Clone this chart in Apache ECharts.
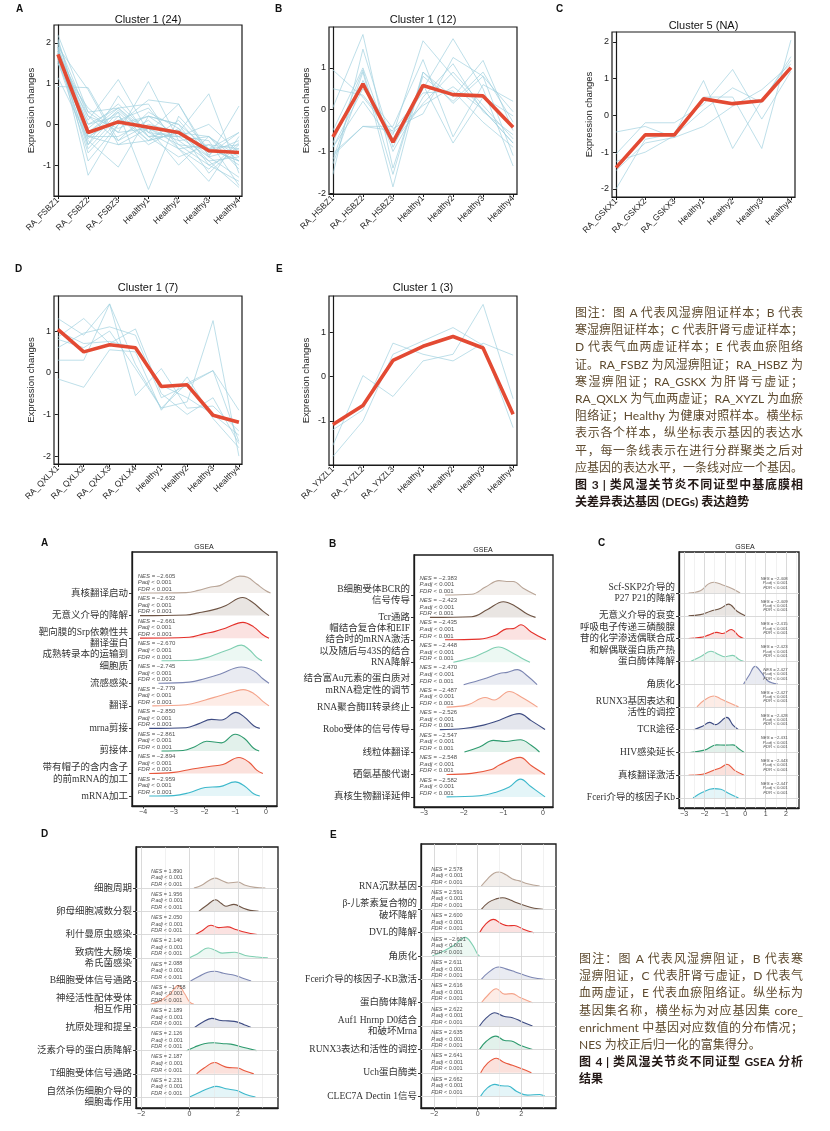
<!DOCTYPE html>
<html><head><meta charset="utf-8">
<script src="https://cdn.jsdelivr.net/npm/echarts@6/dist/echarts.min.js"></script>
<style>
html,body{margin:0;padding:0;background:#fff;}
#wrap{position:relative;width:830px;height:1131px;overflow:hidden;}
#chart{position:absolute;left:0;top:0;width:830px;height:1131px;}
.cap{position:absolute;font-family:"Lato","Noto Sans CJK SC",sans-serif;font-size:12px;line-height:17.2px;color:#5e4a2e;}
.cap .j{text-align:justify;text-align-last:justify;}
.cap .b{font-weight:bold;color:#231815;}
</style></head>
<body><div id="wrap"><div id="chart"></div>
<div class="cap" style="left:575px;top:304px;width:228px">
<div class="j">图注：图 A 代表风湿痹阻证样本；B 代表</div>
<div class="j">寒湿痹阻证样本；C 代表肝肾亏虚证样本；</div>
<div class="j">D 代表气血两虚证样本；E 代表血瘀阻络</div>
<div class="j">证。RA_FSBZ 为风湿痹阻证；RA_HSBZ 为</div>
<div class="j">寒湿痹阻证；RA_GSKX 为肝肾亏虚证；</div>
<div class="j">RA_QXLX 为气血两虚证；RA_XYZL 为血瘀</div>
<div class="j">阻络证；Healthy 为健康对照样本。横坐标</div>
<div class="j">表示各个样本，纵坐标表示基因的表达水</div>
<div class="j">平，每一条线表示在进行分群聚类之后对</div>
<div class="j">应基因的表达水平，一条线对应一个基因。</div>
<div class="j b">图 3 | 类风湿关节炎不同证型中基底膜相</div>
<div class="b">关差异表达基因 (DEGs) 表达趋势</div>
</div>
<div class="cap" style="left:579px;top:950px;width:224px">
<div class="j">图注：图 A 代表风湿痹阻证，B 代表寒</div>
<div class="j">湿痹阻证，C 代表肝肾亏虚证，D 代表气</div>
<div class="j">血两虚证，E 代表血瘀阻络证。纵坐标为</div>
<div class="j">基因集名称，横坐标为对应基因集 core_</div>
<div class="j">enrichment 中基因对应数值的分布情况；</div>
<div>NES 为校正后归一化的富集得分。</div>
<div class="j b">图 4 | 类风湿关节炎不同证型 GSEA 分析</div>
<div class="b">结果</div>
</div>
</div>
<script>
// ================= Figure 3 data =================
const catsA = ['RA_FSBZ1','RA_FSBZ2','RA_FSBZ3','Healthy1','Healthy2','Healthy3','Healthy4'];
const catsB = ['RA_HSBZ1','RA_HSBZ2','RA_HSBZ3','Healthy1','Healthy2','Healthy3','Healthy4'];
const catsC = ['RA_GSKX1','RA_GSKX2','RA_GSKX3','Healthy1','Healthy2','Healthy3','Healthy4'];
const catsD = ['RA_QXLX1','RA_QXLX2','RA_QXLX3','RA_QXLX4','Healthy1','Healthy2','Healthy3','Healthy4'];
const catsE = ['RA_YXZL1','RA_YXZL2','RA_YXZL3','Healthy1','Healthy2','Healthy3','Healthy4'];

const meanA = [1.72,-0.2,0.06,-0.07,-0.2,-0.65,-0.69];
const meanB = [-0.65,0.62,-0.78,0.58,0.36,0.33,-0.42];
const meanC = [-1.42,-0.53,-0.53,0.45,0.32,0.4,1.3];
const meanD = [1.04,0.5,0.67,0.6,-0.33,-0.29,-1.02,-1.19];
const meanE = [-1.08,-0.65,0.36,0.68,0.9,0.64,-0.85];

const linesA = [
 [2.2,0.3,0.4,-0.2,-0.3,-0.8,-1.3],[2.1,-0.3,0.1,0.4,-0.5,-0.6,-0.9],[2.0,0.2,-0.1,0.2,0.0,-1.0,-0.7],
 [1.95,-0.5,0.3,-0.4,-0.2,-0.3,-1.1],[1.9,-1.25,0.0,0.6,0.5,-0.8,-0.6],[1.9,0.85,-0.5,-0.1,-0.4,-0.9,-0.8],
 [1.85,0.1,1.1,-0.2,-0.6,-0.5,-1.0],[1.8,-0.4,-1.05,0.2,0.0,-0.6,-0.2],[1.8,-0.2,0.4,-0.3,-0.3,-0.4,-1.5],
 [1.75,0.3,-0.2,1.05,-0.4,-0.3,-0.8],[1.75,-0.6,0.2,-0.5,-0.1,-1.2,-0.5],[1.7,-0.1,0.5,-0.2,0.5,-0.7,-0.4],
 [1.7,-0.3,-0.3,0.1,-0.6,-1.4,-0.3],[1.65,0.0,0.2,-0.4,-0.2,0.75,-1.2],[1.6,-0.5,0.7,-0.3,-0.8,-0.5,-0.6],
 [1.6,0.2,-0.4,0.3,-0.1,-0.8,0.45],[1.55,-0.7,0.1,-0.1,-1.0,-0.3,-0.9],[1.5,-0.2,0.3,-1.6,0.2,-0.6,-0.5],
 [1.5,0.4,-0.2,-0.1,-0.5,-1.0,-1.4],[1.9,-0.9,0.0,0.2,-0.3,0.0,-0.7],[1.15,-0.35,0.35,-0.3,-0.15,-0.9,-1.55],
 [0.93,0.9,-0.4,0.0,-0.2,-0.6,-0.9],[2.05,-0.3,-0.5,-0.4,0.1,-0.75,-0.2],[1.8,0.0,0.4,0.5,-0.6,-1.1,-0.45]
];
const linesB = [
 [0.95,0.3,-0.6,1.65,0.8,0.0,-0.8],[0.05,1.8,-1.4,0.8,0.2,0.9,-0.3],[-1.55,1.45,-0.9,0.5,1.7,0.5,-1.35],
 [-1.2,0.9,-1.85,0.9,0.3,1.18,-0.5],[-0.9,0.5,-0.45,-0.1,1.25,0.8,-1.1],[-1.05,-0.4,-0.4,1.2,-0.65,0.6,0.2],
 [-0.5,1.0,-1.0,0.3,1.1,-0.05,-0.6],[-1.3,0.7,-0.7,0.6,-0.8,0.3,-0.15],[0.5,0.35,-0.55,0.1,0.55,0.0,-0.8],
 [-0.8,0.95,-1.55,0.9,0.15,0.8,-0.05],[-1.1,-0.4,-0.5,0.4,0.45,-0.3,-0.9],[-0.9,0.2,-0.8,0.15,0.9,0.1,-0.7]
];
const linesC = [
 [-0.45,-0.3,-0.6,-0.3,0.25,0.7,1.4],[-2.0,-0.65,-0.5,0.95,-0.9,0.4,1.5],[-1.05,-0.2,-0.2,0.3,1.25,-0.1,1.2],
 [-1.25,-1.0,-0.55,0.15,0.75,0.35,1.6],[-1.5,-0.75,-0.6,0.5,0.5,-0.9,2.05]
];
const linesD = [
 [1.3,0.9,1.65,0.2,-0.85,-0.7,1.25,-2.0],[0.85,1.3,0.7,1.05,-0.5,-1.0,-0.6,-1.7],[0.6,0.95,1.1,0.9,-0.6,-0.3,0.05,-0.9],
 [0.3,0.3,1.65,-0.55,0.1,-0.85,-0.8,-1.4],[-0.15,-0.35,0.55,0.5,-0.9,-0.1,-1.1,-1.8],[1.0,0.7,0.75,0.6,-0.3,-0.6,-1.0,-1.5],
 [0.8,0.6,1.0,0.1,-0.85,-0.25,0.05,-1.65]
];
const linesE = [
 [-1.55,0.02,-0.45,0.35,0.5,1.62,-0.5],[-1.2,-0.75,0.75,0.5,0.35,0.75,0.48],[-1.8,-1.0,0.5,0.8,1.1,0.7,-1.15]
];

// ================= Figure 4 data =================
const labelsA = ['真核翻译启动','无意义介导的降解','靶向膜的Srp依赖性共\n翻译蛋白','成熟转录本的运输到\n细胞质','流感感染','翻译','mrna剪接','剪接体','带有帽子的含内含子\n的前mRNA的加工','mRNA加工'];
const labelsB = ['B细胞受体BCR的\n信号传导','Tcr通路','帽结合复合体和EIF\n结合时的mRNA激活\n以及随后与43S的结合','RNA降解','结合富Au元素的蛋白质对\nmRNA稳定性的调节','RNA聚合酶II转录终止','Robo受体的信号传导','线粒体翻译','硒氨基酸代谢','真核生物翻译延伸'];
const labelsC = ['Scf-SKP2介导的\nP27 P21的降解','无意义介导的衰变','呼吸电子传递三磷酸腺\n苷的化学渗透偶联合成\n和解偶联蛋白质产热','蛋白酶体降解','角质化','RUNX3基因表达和\n活性的调控','TCR途径','HIV感染延长','真核翻译激活','Fceri介导的核因子Kb'];
const labelsD = ['细胞周期','卵母细胞减数分裂','利什曼原虫感染','致病性大肠埃\n希氏菌感染','B细胞受体信号通路','神经活性配体受体\n相互作用','抗原处理和提呈','泛素介导的蛋白质降解','T细胞受体信号通路','自然杀伤细胞介导的\n细胞毒作用'];
const labelsE = ['RNA沉默基因','β-儿茶素复合物的\n破坏降解','DVL的降解','角质化','Fceri介导的核因子-KB激活','蛋白酶体降解','Auf1 Hnrnp D0结合\n和破坏Mrna','RUNX3表达和活性的调控','Uch蛋白酶类','CLEC7A Dectin 1信号'];

const nesA = ['−2.605','−2.632','−2.661','−2.670','−2.745','−2.779','−2.850','−2.861','−2.894','−2.959'];
const nesB = ['−2.383','−2.423','−2.435','−2.448','−2.470','−2.487','−2.526','−2.547','−2.548','−2.582'];
const nesC = ['−2.408','−2.409','−2.415','−2.423','2.427','−2.427','−2.428','−2.431','−2.443','−2.447'];
const nesD = ['1.890','1.956','2.050','2.140','2.088','−1.758','2.189','2.126','2.187','2.231'];
const nesE = ['2.578','2.591','2.600','−2.601','2.611','2.616','2.622','2.635','2.641','2.662'];

// density curves [x, height in row units], top row first
const ridgeA = [
 [[-4.1,0],[-2.6,0.02],[-2.2,0.12],[-1.8,0.27],[-1.5,0.33],[-1.2,0.55],[-0.85,0.75],[-0.6,0.7],[-0.3,0.4],[0,0.1],[0.15,0]],
 [[-4.1,0],[-2.6,0.03],[-2.2,0.12],[-1.6,0.3],[-1.3,0.45],[-0.76,0.8],[-0.45,0.6],[-0.1,0.2],[0.1,0]],
 [[-4.1,0],[-2.5,0.04],[-2.0,0.2],[-1.65,0.3],[-1.3,0.45],[-0.75,0.7],[-0.4,0.5],[-0.1,0.15],[0.1,0]],
 [[-3.4,0],[-2.4,0.02],[-1.9,0.15],[-1.6,0.3],[-1.2,0.5],[-0.8,0.69],[-0.55,0.5],[-0.3,0.15],[-0.13,0]],
 [[-3.5,0],[-2.5,0.05],[-2.0,0.2],[-1.5,0.4],[-0.8,0.72],[-0.4,0.55],[-0.1,0.2],[0.1,0]],
 [[-3.7,0],[-2.6,0.05],[-2.0,0.25],[-1.5,0.45],[-1.0,0.65],[-0.74,0.72],[-0.4,0.55],[-0.1,0.2],[0.1,0]],
 [[-3.8,0],[-2.6,0.03],[-2.2,0.2],[-1.77,0.4],[-1.45,0.37],[-0.98,0.71],[-0.7,0.5],[-0.4,0.12],[-0.2,0]],
 [[-3.4,0],[-2.7,0.02],[-2.3,0.2],[-1.93,0.43],[-1.45,0.36],[-1.0,0.74],[-0.7,0.55],[-0.4,0.12],[-0.22,0]],
 [[-3.8,0],[-3.0,0.05],[-2.4,0.2],[-1.8,0.32],[-1.4,0.4],[-0.88,0.71],[-0.55,0.5],[-0.3,0.15],[-0.1,0]],
 [[-3.8,0],[-3.0,0.02],[-2.5,0.15],[-1.98,0.38],[-1.5,0.42],[-1.0,0.63],[-0.7,0.45],[-0.4,0.1],[-0.2,0]]
];
const ridgeB = [
 [[-2.47,0],[-1.8,0.03],[-1.45,0.35],[-1.11,0.64],[-0.92,0.6],[-0.75,0.6],[-0.5,0.3],[-0.18,0]],
 [[-2.85,0],[-1.8,0.03],[-1.4,0.35],[-1.0,0.7],[-0.7,0.5],[-0.4,0.15],[-0.19,0]],
 [[-2.47,0],[-1.6,0.03],[-1.2,0.2],[-0.92,0.49],[-0.75,0.5],[-0.56,0.67],[-0.3,0.35],[0.07,0]],
 [[-2.26,0],[-1.8,0.2],[-1.5,0.42],[-1.12,0.68],[-0.8,0.45],[-0.5,0.15],[-0.33,0]],
 [[-2.0,0],[-1.5,0.25],[-1.1,0.5],[-0.9,0.55],[-0.65,0.67],[-0.4,0.4],[-0.15,0]],
 [[-2.43,0],[-1.9,0.1],[-1.46,0.43],[-1.23,0.32],[-0.85,0.7],[-0.55,0.45],[-0.14,0]],
 [[-2.6,0],[-2.0,0.05],[-1.5,0.2],[-1.1,0.42],[-0.6,0.71],[-0.3,0.4],[0.05,0]],
 [[-1.98,0],[-1.6,0.22],[-1.25,0.52],[-0.95,0.47],[-0.57,0.55],[-0.3,0.3],[-0.09,0]],
 [[-2.43,0],[-1.8,0.05],[-1.3,0.22],[-1.1,0.42],[-0.58,0.76],[-0.3,0.4],[0.05,0]],
 [[-2.43,0],[-1.6,0.05],[-1.2,0.2],[-0.85,0.44],[-0.57,0.79],[-0.3,0.45],[0.05,0]]
];
const ridgeC = [
 [[-2.78,0],[-2.2,0.1],[-1.8,0.4],[-1.55,0.47],[-1.1,0.35],[-0.6,0.18],[-0.25,0]],
 [[-2.78,0],[-2.2,0.05],[-1.7,0.2],[-1.2,0.33],[-0.82,0.51],[-0.4,0.2],[0.0,0]],
 [[-2.78,0],[-2.2,0.05],[-1.8,0.15],[-1.39,0.27],[-1.1,0.22],[-0.69,0.4],[-0.3,0.1],[-0.08,0]],
 [[-2.66,0],[-2.2,0.2],[-1.68,0.44],[-1.3,0.3],[-1.0,0.2],[-0.62,0.26],[-0.3,0.08],[-0.08,0]],
 [[-0.08,0],[0.2,0.4],[0.49,0.78],[0.8,0.5],[1.1,0.15],[1.6,0]],
 [[-2.37,0],[-2.0,0.3],[-1.53,0.48],[-1.2,0.35],[-0.9,0.22],[-0.33,0]],
 [[-2.53,0],[-2.1,0.15],[-1.75,0.32],[-1.47,0.22],[-0.9,0.54],[-0.6,0.2],[-0.33,0]],
 [[-2.7,0],[-2.0,0.1],[-1.4,0.33],[-1.0,0.32],[-0.6,0.33],[-0.3,0.15],[-0.05,0]],
 [[-2.78,0],[-2.1,0.04],[-1.55,0.22],[-1.2,0.33],[-0.9,0.48],[-0.5,0.2],[-0.05,0]],
 [[-2.56,0],[-2.1,0.25],[-1.55,0.41],[-1.2,0.38],[-0.8,0.2],[-0.33,0]]
];
const ridgeD = [
 [[0.18,0],[0.5,0.12],[0.8,0.33],[1.04,0.43],[1.35,0.32],[1.6,0.22],[2.0,0.26],[2.3,0.12],[2.7,0.03],[3.13,0]],
 [[0.38,0],[0.7,0.25],[1.08,0.5],[1.3,0.35],[1.5,0.22],[1.83,0.3],[2.2,0.14],[2.5,0.04],[2.85,0]],
 [[0.25,0],[0.5,0.15],[0.88,0.4],[1.2,0.3],[1.57,0.33],[1.9,0.22],[2.3,0.1],[2.79,0]],
 [[0.0,0],[0.3,0.15],[0.77,0.42],[1.1,0.3],[1.35,0.2],[1.87,0.24],[2.3,0.1],[2.8,0.03],[3.23,0]],
 [[0.04,0],[0.4,0.2],[0.75,0.38],[1.04,0.42],[1.4,0.33],[1.89,0.24],[2.2,0.12],[2.54,0]],
 [[-1.61,0],[-1.2,0.15],[-0.8,0.45],[-0.47,0.8],[-0.2,0.45],[0.0,0.1],[0.18,0]],
 [[0.21,0],[0.5,0.2],[0.92,0.39],[1.3,0.3],[1.6,0.28],[1.95,0.24],[2.25,0.12],[2.54,0]],
 [[-0.12,0],[0.2,0.15],[0.6,0.3],[0.99,0.34],[1.4,0.3],[1.7,0.28],[2.2,0.15],[2.76,0]],
 [[0.29,0],[0.6,0.25],[1.04,0.49],[1.3,0.38],[1.55,0.28],[1.99,0.25],[2.3,0.12],[2.65,0]],
 [[0.0,0],[0.4,0.2],[0.8,0.38],[1.1,0.46],[1.5,0.36],[1.95,0.28],[2.3,0.12],[2.72,0]]
];
const ridgeE = [
 [[0.17,0],[0.45,0.3],[0.75,0.55],[1.0,0.6],[1.3,0.48],[1.6,0.3],[1.92,0.22],[2.3,0.1],[2.85,0]],
 [[0.17,0],[0.5,0.3],[0.85,0.45],[1.15,0.5],[1.5,0.4],[1.8,0.28],[2.3,0.12],[2.6,0.05],[3.0,0]],
 [[0.09,0],[0.35,0.35],[0.73,0.57],[1.1,0.38],[1.4,0.3],[1.68,0.31],[2.1,0.15],[2.59,0]],
 [[-2.08,0],[-1.6,0.2],[-1.1,0.45],[-0.57,0.8],[-0.25,0.5],[0.0,0.08],[0.09,0]],
 [[0.17,0],[0.5,0.3],[0.96,0.53],[1.3,0.45],[1.7,0.33],[2.1,0.2],[2.5,0.08],[3.08,0]],
 [[0.17,0],[0.45,0.3],[0.86,0.6],[1.24,0.37],[1.58,0.39],[1.95,0.22],[2.52,0]],
 [[0.09,0],[0.4,0.35],[0.79,0.57],[1.2,0.42],[1.6,0.36],[2.0,0.2],[2.52,0]],
 [[0.09,0],[0.4,0.35],[0.84,0.57],[1.24,0.38],[1.55,0.36],[1.95,0.18],[2.52,0]],
 [[0.14,0],[0.45,0.4],[0.86,0.62],[1.2,0.45],[1.6,0.32],[2.0,0.18],[2.47,0]],
 [[0.14,0],[0.45,0.35],[0.79,0.5],[1.1,0.44],[1.4,0.43],[1.8,0.2],[2.3,0.04],[2.85,0.07],[3.08,0]]
];

const ticksA4 = [-4,-3,-2,-1,0];
const ticksB4 = [-3,-2,-1,0];
const ticksC4 = [-3,-2,-1,0,1,2];
const ticksD4 = [-2,0,2];
const ticksE4 = [-2,0,2];

// ================= styling / layout =================
const SANS = '"Liberation Sans", Arial, sans-serif';
const SERIF = '"Liberation Serif", "Noto Sans CJK SC", serif';
const palette = [
 ['#b9a597','rgba(185,165,151,0.27)'],['#6e5444','rgba(110,84,68,0.22)'],['#e4312b','rgba(228,49,43,0.2)'],
 ['#80cfb2','rgba(128,207,178,0.22)'],['#7c86b2','rgba(124,134,178,0.24)'],['#f4a38a','rgba(244,163,138,0.3)'],
 ['#3d4b82','rgba(61,75,130,0.2)'],['#2f9b6f','rgba(47,155,111,0.2)'],['#e8573c','rgba(232,87,60,0.26)'],
 ['#3db8cb','rgba(61,184,203,0.2)']
];

const f3 = [
 {cats:catsA, lines:linesA, mean:meanA, title:'Cluster 1 (24)', g:[54,25,188,171], xr:[-0.13,6.1], yr:[-1.76,2.44], yt:[-1,0,1,2], ty:20, L:'A', lp:[16,9]},
 {cats:catsB, lines:linesB, mean:meanB, title:'Cluster 1 (12)', g:[329,27,188,167], xr:[-0.13,6.13], yr:[-2.02,1.98], yt:[-2,-1,0,1], ty:20, L:'B', lp:[275,9]},
 {cats:catsC, lines:linesC, mean:meanC, title:'Cluster 5 (NA)', g:[612,32,183,165], xr:[-0.14,6.14], yr:[-2.22,2.27], yt:[-2,-1,0,1,2], ty:26, L:'C', lp:[556,9]},
 {cats:catsD, lines:linesD, mean:meanD, title:'Cluster 1 (7)', g:[54,296,188,168], xr:[-0.15,7.12], yr:[-2.19,1.84], yt:[-2,-1,0,1], ty:288, L:'D', lp:[15,269]},
 {cats:catsE, lines:linesE, mean:meanE, title:'Cluster 1 (3)', g:[329,296,188,169], xr:[-0.13,6.13], yr:[-1.99,1.81], yt:[-1,0,1], ty:288, L:'E', lp:[276,269]}
];
const f4 = [
 {labels:labelsA, ridges:ridgeA, nes:nesA, pa:'Padj', g:[132,552,145,254], xr:[-4.36,0.36], yr:[-0.44,10.82], xt:ticksA4, gl:null, nx:-4.16, right:false, nf:6, nlh:6.6, noff:0, gsea:[204,547], L:'A', lp:[41,543]},
 {labels:labelsB, ridges:ridgeB, nes:nesB, pa:'P.adj', g:[414,555,139,252], xr:[-3.25,0.25], yr:[-0.45,10.78], xt:ticksB4, gl:null, nx:-3.1, right:false, nf:6, nlh:6.6, noff:0, gsea:[483,550], L:'B', lp:[329,544]},
 {labels:labelsC, ridges:ridgeC, nes:nesC, pa:'P.adj', g:[679,552,120,256], xr:[-3.25,2.64], yr:[-0.44,10.8], xt:ticksC4, gl:[[-3,-2,-1,0,1,2],[-2.5,-1.5,-0.5,0.5,1.5,2.5]], nx:2.11, right:true, nf:4.3, nlh:4.3, noff:-3, gsea:[745,547], L:'C', lp:[598,543]},
 {labels:labelsD, ridges:ridgeD, nes:nesD, pa:'P.adj', g:[136,847,142,261], xr:[-2.21,3.65], yr:[-0.47,10.77], xt:ticksD4, gl:[[-2,0,2],[-1,1,3]], nx:-1.57, right:false, nf:5.5, nlh:6.6, noff:0, gsea:null, L:'D', lp:[41,834]},
 {labels:labelsE, ridges:ridgeE, nes:nesE, pa:'P.adj', g:[421,844,135,264], xr:[-2.6,3.6], yr:[-0.51,10.8], xt:ticksE4, gl:[[-2,0,2],[-1,1,3]], nx:-2.11, right:false, nf:5.5, nlh:6.6, noff:0, gsea:null, L:'E', lp:[330,835]}
];

const grid=[], xAxis=[], yAxis=[], series=[], graphic=[];
const fmtNum = v => (v<0 ? '-' + Math.abs(v) : String(v));

f3.forEach((p,gi)=>{
  grid.push({left:p.g[0], top:p.g[1], width:p.g[2], height:p.g[3], show:true, borderColor:'#1a1a1a', borderWidth:1.2, containLabel:false});
  const idx = p.cats.map((_,j)=>j);
  xAxis.push({gridIndex:gi, type:'value', min:p.xr[0], max:p.xr[1],
    axisLine:{show:true, onZero:false, lineStyle:{color:'#1a1a1a', width:1.2}},
    axisTick:{show:true, customValues:idx, length:3, lineStyle:{color:'#1a1a1a', width:1}},
    axisLabel:{customValues:idx, formatter:v=>p.cats[Math.round(v)], rotate:45, fontSize:8.5, color:'#222', margin:3, fontFamily:SANS},
    splitLine:{show:false}});
  yAxis.push({gridIndex:gi, type:'value', min:p.yr[0], max:p.yr[1],
    axisLine:{show:true, lineStyle:{color:'#1a1a1a', width:1.2}},
    axisTick:{show:true, customValues:p.yt, length:3, lineStyle:{color:'#1a1a1a', width:1}},
    axisLabel:{customValues:p.yt, formatter:fmtNum, fontSize:9, color:'#222', margin:3, fontFamily:SANS},
    splitLine:{show:false},
    name:'Expression changes', nameLocation:'middle', nameGap:18, nameTextStyle:{fontSize:9.5, color:'#222', fontFamily:SANS}});
  p.lines.forEach(l=>series.push({type:'line', xAxisIndex:gi, yAxisIndex:gi, data:l.map((v,j)=>[j,v]), symbol:'none', silent:true, lineStyle:{color:'#9fd0de', width:0.8, opacity:0.85}, z:2}));
  series.push({type:'line', xAxisIndex:gi, yAxisIndex:gi, data:p.mean.map((v,j)=>[j,v]), symbol:'none', silent:true, lineStyle:{color:'#e34a33', width:3.6}, z:3});
  const cx = p.g[0] + p.g[2]/2;
  graphic.push({type:'text', x:cx, y:p.ty, style:{text:p.title, align:'center', verticalAlign:'middle', font:'11px '+SANS, fill:'#111'}});
  graphic.push({type:'text', x:p.lp[0], y:p.lp[1], style:{text:p.L, align:'left', verticalAlign:'middle', font:'bold 10px '+SANS, fill:'#111'}});
});

f4.forEach((p,k)=>{
  const gi = 5 + k;
  const n = p.labels.length;
  const rows = p.labels.map((_,i)=>i);
  grid.push({left:p.g[0], top:p.g[1], width:p.g[2], height:p.g[3], show:true, borderColor:'#1a1a1a', borderWidth:1.3, containLabel:false});
  xAxis.push({gridIndex:gi, type:'value', min:p.xr[0], max:p.xr[1],
    axisLine:{show:true, onZero:false, lineStyle:{color:'#1a1a1a', width:1.3}},
    axisTick:{show:true, customValues:p.xt, length:2.5, lineStyle:{color:'#333'}},
    axisLabel:{customValues:p.xt, formatter:v=>(v<0?'−'+Math.abs(v):String(v)), fontSize:7, color:'#444', margin:3, fontFamily:SANS},
    splitLine:{show:false}});
  yAxis.push({gridIndex:gi, type:'value', min:p.yr[0], max:p.yr[1],
    axisLine:{show:true, onZero:false, lineStyle:{color:'#1a1a1a', width:1.3}},
    axisTick:{show:true, customValues:rows, length:3, lineStyle:{color:'#333'}},
    axisLabel:{customValues:rows, formatter:v=>p.labels[n-1-Math.round(v)], fontSize:9.5, lineHeight:11.5, color:'#333', margin:4, fontFamily:SERIF},
    splitLine:{show:false}});
  if (p.gl) {
    const ml = [];
    p.gl[0].forEach(v=>ml.push({xAxis:v, lineStyle:{color:'#d6d6d6', width:0.9}}));
    p.gl[1].forEach(v=>ml.push({xAxis:v, lineStyle:{color:'#e8e8e8', width:0.6}}));
    rows.forEach(v=>ml.push({yAxis:v, lineStyle:{color:'#d6d6d6', width:0.9}}));
    series.push({type:'line', xAxisIndex:gi, yAxisIndex:gi, data:[], silent:true, z:1,
      markLine:{silent:true, symbol:['none','none'], label:{show:false}, animation:false, data:ml, lineStyle:{type:'solid'}}});
  }
  p.ridges.forEach((curve,i)=>{
    const base = n-1-i;
    const col = palette[i];
    series.push({type:'line', xAxisIndex:gi, yAxisIndex:gi, data:curve.map(([x,h])=>[x, base+h]), symbol:'none', silent:true,
      smooth:0.4, lineStyle:{color:col[0], width:1.1}, areaStyle:{color:col[1], origin:base}, z:2+i*0.01});
  });
  const rich = {i:{fontStyle:'italic', fontSize:p.nf, fontFamily:SANS, color:'#222', lineHeight:p.nlh}};
  series.push({type:'scatter', xAxisIndex:gi, yAxisIndex:gi, symbolSize:1, itemStyle:{color:'rgba(0,0,0,0)'}, silent:true, z:5,
    data:p.nes.map((s,i)=>({value:[p.nx, n-1-i], nes:s})),
    label:{show:true, position:[0,p.noff], align:p.right?'right':'left', verticalAlign:'bottom', fontSize:p.nf, lineHeight:p.nlh, color:'#222', fontFamily:SANS, rich:rich,
      formatter:prm=>'{i|NES} = '+prm.data.nes+'\n{i|'+p.pa+'} < 0.001\n{i|FDR} < 0.001'}});
  if (p.gsea) graphic.push({type:'text', x:p.gsea[0], y:p.gsea[1], style:{text:'GSEA', align:'center', verticalAlign:'middle', font:'7px '+SANS, fill:'#222'}});
  graphic.push({type:'text', x:p.lp[0], y:p.lp[1], style:{text:p.L, align:'left', verticalAlign:'middle', font:'bold 10px '+SANS, fill:'#111'}});
});

const chart = echarts.init(document.getElementById('chart'), null, {renderer:'canvas'});
chart.setOption({animation:false, backgroundColor:'#fff', grid, xAxis, yAxis, series, graphic});
</script>
</body></html>
